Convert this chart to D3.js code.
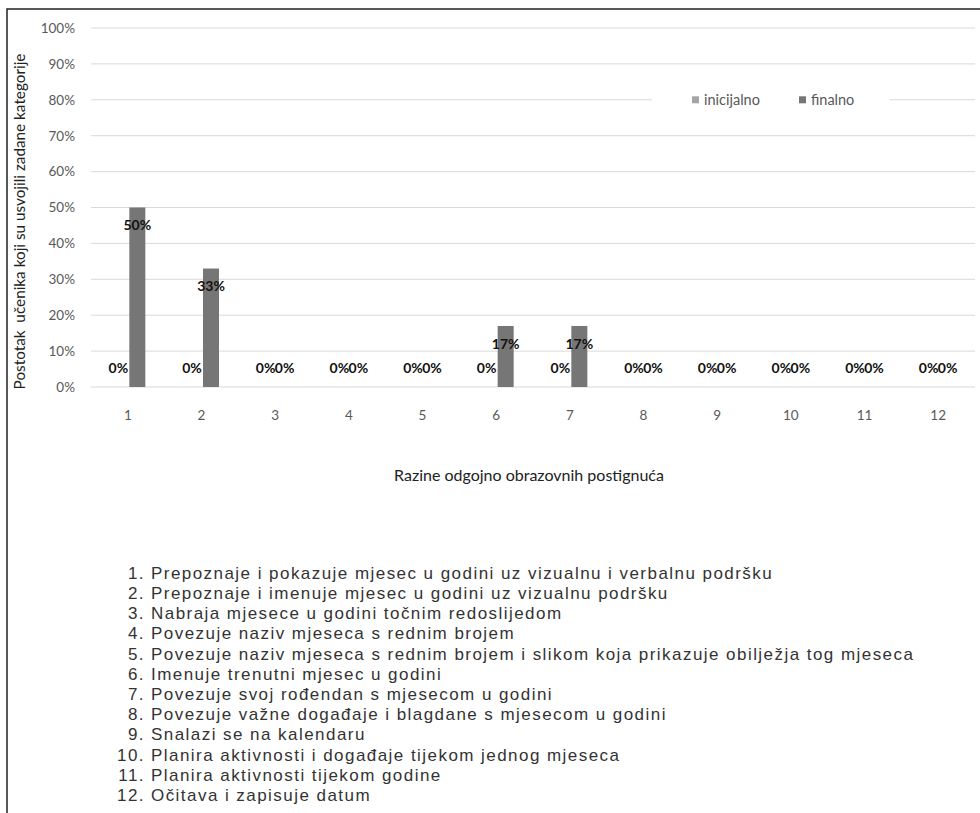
<!DOCTYPE html>
<html>
<head>
<meta charset="utf-8">
<script src="https://cdn.jsdelivr.net/npm/d3@7"></script>
<style>
  html, body { margin: 0; padding: 0; background: #fff; }
  svg { display: block; }
</style>
</head>
<body>
<script>
// Achievement levels on the x axis
const categories = ["1", "2", "3", "4", "5", "6", "7", "8", "9", "10", "11", "12"];
// Share of pupils (%) per level, before and after
const inicijalno = [0, 0, 0, 0, 0, 0, 0, 0, 0, 0, 0, 0];
const finalno = [50, 33, 0, 0, 0, 17, 17, 0, 0, 0, 0, 0];
const seriesNames = ["inicijalno", "finalno"];
const yTicks = [0, 10, 20, 30, 40, 50, 60, 70, 80, 90, 100];
const yTitle = "Postotak  u\u010Denika koji su usvojili zadane kategorije";
const xTitle = "Razine odgojno obrazovnih postignu\u0107a";
// Description of each level, listed under the chart
const descriptions = [
  "Prepoznaje i pokazuje mjesec u godini uz vizualnu i verbalnu podr\u0161ku",
  "Prepoznaje i imenuje mjesec u godini uz vizualnu podr\u0161ku",
  "Nabraja mjesece u godini to\u010Dnim redoslijedom",
  "Povezuje naziv mjeseca s rednim brojem",
  "Povezuje naziv mjeseca s rednim brojem i slikom koja prikazuje obilje\u017Eja tog mjeseca",
  "Imenuje trenutni mjesec u godini",
  "Povezuje svoj ro\u0111endan s mjesecom u godini",
  "Povezuje va\u017Ene doga\u0111aje i blagdane s mjesecom u godini",
  "Snalazi se na kalendaru",
  "Planira aktivnosti i doga\u0111aje tijekom jednog mjeseca",
  "Planira aktivnosti tijekom godine",
  "O\u010Ditava i zapisuje datum"
];

const W = 980, H = 813;
const chartFont = "Lato, 'Open Sans', sans-serif";
const listFont = "'Liberation Sans', Arial, sans-serif";
const colors = { inicijalno: "#a5a5a5", finalno: "#767676" };

const svg = d3.select("body").append("svg")
  .attr("width", W).attr("height", H);

// outer frame (top and left edges)
svg.append("path")
  .attr("d", `M7,${H} L7,9 L${W},9`)
  .attr("fill", "none").attr("stroke", "#222").attr("stroke-width", 1.5);

const plot = { left: 91, right: 975, top: 28, bottom: 387 };

const x = d3.scaleBand().domain(categories).range([plot.left, plot.right]).padding(0);
const y = d3.scaleLinear().domain([0, 100]).range([plot.bottom, plot.top]);
const barW = 16;
const barGap = 1.5;
const offset = { inicijalno: -barGap - barW, finalno: barGap };

// horizontal gridlines
svg.append("g").selectAll("line").data(yTicks).join("line")
  .attr("x1", plot.left).attr("x2", plot.right)
  .attr("y1", d => y(d)).attr("y2", d => y(d))
  .attr("stroke", "#d9d9d9").attr("stroke-width", 1);

// y axis tick labels
const yAxis = d3.axisLeft(y).tickValues(yTicks).tickFormat(d => d + "%").tickSize(0).tickPadding(0);
const gy = svg.append("g").attr("transform", `translate(${plot.left - 16},0)`).call(yAxis);
gy.select(".domain").remove();
gy.selectAll("text").attr("font-family", chartFont).attr("font-size", 13.5).attr("fill", "#595959");

// x axis tick labels
const xAxis = d3.axisBottom(x).tickSize(0).tickPadding(0);
const gx = svg.append("g").attr("transform", `translate(0,${plot.bottom + 23})`).call(xAxis);
gx.select(".domain").remove();
gx.selectAll("text").attr("font-family", chartFont).attr("font-size", 13.5).attr("fill", "#595959");

// bars
const series = [
  { name: "inicijalno", values: inicijalno },
  { name: "finalno", values: finalno }
];
const barX = (s, i) => x(categories[i]) + x.bandwidth() / 2 + offset[s.name];

series.forEach(s => {
  svg.append("g").selectAll("rect").data(s.values).join("rect")
    .attr("x", (d, i) => barX(s, i))
    .attr("width", barW)
    .attr("y", d => y(d))
    .attr("height", d => y(0) - y(d))
    .attr("fill", colors[s.name]);
});

// value labels
series.forEach(s => {
  svg.append("g").selectAll("text").data(s.values).join("text")
    .attr("x", (d, i) => barX(s, i) + barW / 2)
    .attr("y", d => d > 0 ? y(d) + 18 : y(0) - 19)
    .attr("dy", "0.35em")
    .attr("text-anchor", "middle")
    .attr("font-family", chartFont).attr("font-size", 14).attr("font-weight", 700)
    .attr("fill", "#111")
    .text(d => d + "%");
});

// legend
const legend = svg.append("g");
legend.append("rect").attr("x", 652).attr("y", 90).attr("width", 238).attr("height", 20).attr("fill", "#fff");
const legendX = [692, 799];
seriesNames.forEach((n, i) => {
  legend.append("rect").attr("x", legendX[i]).attr("y", y(80) - 3.5).attr("width", 7).attr("height", 7)
    .attr("fill", colors[n]);
  legend.append("text").attr("x", legendX[i] + 12).attr("y", y(80)).attr("dy", "0.35em")
    .attr("font-family", chartFont).attr("font-size", 14.5).attr("fill", "#595959").text(n);
});

// axis titles
svg.append("text")
  .attr("transform", `translate(20,${(plot.top + plot.bottom) / 2 + 14}) rotate(-90)`)
  .attr("text-anchor", "middle").attr("dy", "0.35em")
  .attr("font-family", chartFont).attr("font-size", 15.3).attr("fill", "#222")
  .style("white-space", "pre")
  .text(yTitle);

svg.append("text")
  .attr("x", (plot.left + plot.right) / 2 - 4).attr("y", 475).attr("dy", "0.35em")
  .attr("text-anchor", "middle")
  .attr("font-family", chartFont).attr("font-size", 16).attr("fill", "#222")
  .text(xTitle);

// numbered list of level descriptions
const list = svg.append("g");
const rowY = d3.scalePoint().domain(categories).range([573, 795]);
descriptions.forEach((t, i) => {
  const cy = rowY(categories[i]);
  list.append("text").attr("x", 145).attr("y", cy).attr("dy", "0.35em")
    .attr("text-anchor", "end")
    .attr("font-family", listFont).attr("font-size", 17).attr("fill", "#333")
    .attr("letter-spacing", 1.45)
    .text(categories[i] + ".");
  list.append("text").attr("x", 151).attr("y", cy).attr("dy", "0.35em")
    .attr("font-family", listFont).attr("font-size", 17).attr("fill", "#333")
    .attr("letter-spacing", 1.45)
    .text(t);
});
</script>
</body>
</html>
